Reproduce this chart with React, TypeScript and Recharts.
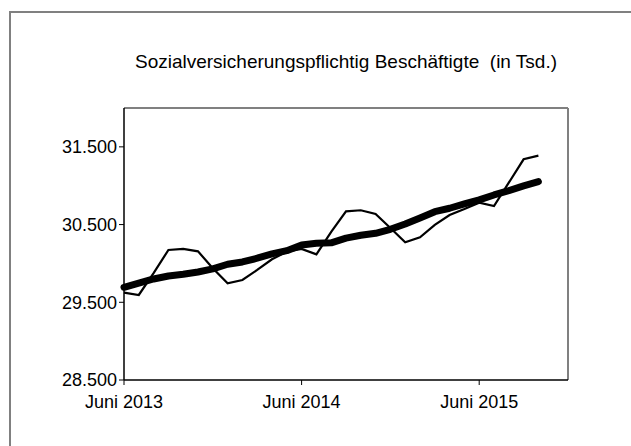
import React from "react";
import { LineChart, Line, XAxis, YAxis, ReferenceLine } from "recharts";

// Monthly index: 0 = Juni 2013 ... 30 = Dezember 2015
const monthIndex = Array.from({ length: 29 }, (_, i) => i);
const beschaeftigte = [29624, 29594, 29875, 30173, 30186, 30156, 29937, 29744, 29787, 29916, 30053, 30151, 30186, 30117, 30405, 30670, 30684, 30636, 30456, 30272, 30336, 30495, 30623, 30700, 30782, 30739, 31039, 31340, 31387];
const trend = [29693, 29748, 29800, 29838, 29860, 29890, 29929, 29989, 30019, 30067, 30122, 30164, 30237, 30259, 30265, 30325, 30362, 30388, 30439, 30508, 30585, 30666, 30710, 30765, 30817, 30881, 30936, 30997, 31052];
const xTicks = [0, 12, 24];
const xTickLabels = ["Juni 2013", "Juni 2014", "Juni 2015"];
const yTicks = [28500, 29500, 30500, 31500];
const title = "Sozialversicherungspflichtig Beschäftigte  (in Tsd.)";

const data = monthIndex.map((m, i) => ({ m, v: beschaeftigte[i], t: trend[i] }));

const fmt = (v: number) => v.toLocaleString("de-DE");
const FONT = "'Liberation Sans', Arial, sans-serif";

export default function App() {
  return (
    <div style={{ position: "absolute", left: 0, top: 0, width: 631, height: 446, background: "#fff", overflow: "hidden" }}>
      <div style={{ position: "absolute", left: 9, top: 11, width: 640, height: 460, borderLeft: "2px solid #808080", borderTop: "2px solid #808080" }} />
      <div style={{ position: "absolute", left: 124, width: 444, top: 49, textAlign: "center", fontFamily: FONT, fontSize: 19, lineHeight: "25px", color: "#000", whiteSpace: "pre" }}>
        {title}
      </div>
      <div style={{ position: "absolute", left: 0, top: 0 }}>
        <LineChart width={631} height={446} data={data} margin={{ top: 108, right: 63, bottom: 36, left: 4 }}>
          <XAxis
            dataKey="m"
            type="number"
            domain={[0, 30]}
            ticks={xTicks}
            tickFormatter={(v: number) => xTickLabels[xTicks.indexOf(v)] ?? ""}
            tick={{ fill: "#000", fontSize: 18, fontFamily: FONT }}
            tickMargin={10}
            tickSize={5}
            axisLine={{ stroke: "#000", strokeWidth: 1.5 }}
            tickLine={{ stroke: "#000" }}
            height={30}
          />
          <YAxis
            type="number"
            domain={[28500, 32000]}
            ticks={yTicks}
            tickFormatter={fmt}
            tick={{ fill: "#000", fontSize: 18, fontFamily: FONT }}
            tickSize={5}
            axisLine={{ stroke: "#000", strokeWidth: 1.5 }}
            tickLine={{ stroke: "#000" }}
            width={120}
            allowDataOverflow
          />
          <ReferenceLine y={32000} stroke="#808080" strokeWidth={2} />
          <ReferenceLine x={30} stroke="#808080" strokeWidth={2} />
          <Line type="linear" dataKey="v" stroke="#000" strokeWidth={2.2} dot={false} isAnimationActive={false} />
          <Line type="linear" dataKey="t" stroke="#000" strokeWidth={7} strokeLinecap="round" strokeLinejoin="round" dot={false} isAnimationActive={false} />
        </LineChart>
      </div>
    </div>
  );
}
